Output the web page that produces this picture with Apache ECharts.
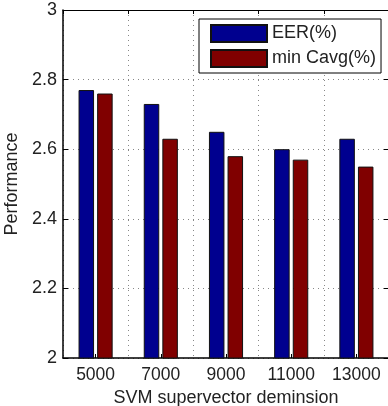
<!DOCTYPE html>
<html><head><meta charset="utf-8">
<script src="https://cdn.jsdelivr.net/npm/echarts@6/dist/echarts.min.js"></script>
<style>html,body{margin:0;padding:0;background:#fff}#c{width:388px;height:406px}</style>
</head><body><div id="c"></div>
<script>
var categories = ['5000', '7000', '9000', '11000', '13000'];
var eer = [2.77, 2.73, 2.65, 2.60, 2.63];
var cavg = [2.76, 2.63, 2.58, 2.57, 2.55];
var seriesNames = ['EER(%)', 'min Cavg(%)'];
var yMin = 2, yMax = 3, yStep = 0.2;

var chart = echarts.init(document.getElementById('c'), null, {renderer: 'canvas'});
var font = 'Liberation Sans, Arial, Helvetica, sans-serif';
var txt = '#222';
var dotted = {show: true, lineStyle: {color: '#888', width: 1, type: [1, 4]}};
chart.setOption({
  animation: false,
  backgroundColor: '#fff',
  textStyle: {fontFamily: font},
  grid: {left: 63, top: 10, width: 326, height: 348, containLabel: false, outerBoundsMode: 'none'},
  legend: {
    data: seriesNames, orient: 'vertical', left: 199, top: 19,
    backgroundColor: '#fff', borderColor: '#000', borderWidth: 1,
    padding: [5, 5, 5, 11], itemWidth: 56, itemHeight: 17, itemGap: 6,
    icon: 'rect',
    textStyle: {fontSize: 18, color: txt, fontFamily: font, padding: [0, 0, 0, 0]}
  },
  xAxis: [{
    type: 'category', data: categories, position: 'bottom',
    axisLine: {onZero: false, lineStyle: {color: '#000', width: 1.5}},
    axisTick: {show: true, inside: true, alignWithLabel: true, length: 4, lineStyle: {color: '#000'}},
    axisLabel: {fontSize: 17.5, color: txt, margin: 8, fontFamily: font, interval: 0, hideOverlap: false},
    splitLine: {show: false},
    name: 'SVM supervector deminsion', nameLocation: 'middle', nameGap: 29,
    nameTextStyle: {fontSize: 18, color: txt, fontFamily: font}
  }, {
    type: 'value', position: 'top', min: -0.5, max: 4.5, interval: 1,
    axisLine: {show: true, onZero: false, lineStyle: {color: '#000', width: 1}},
    axisTick: {show: true, inside: true, length: 4, lineStyle: {color: '#000'}},
    axisLabel: {show: false},
    splitLine: dotted
  }],
  yAxis: [{
    type: 'value', min: yMin, max: yMax, interval: yStep, position: 'left',
    axisLine: {show: true, onZero: false, lineStyle: {color: '#000', width: 1.5}},
    axisTick: {show: true, inside: true, length: 5, lineStyle: {color: '#000'}},
    axisLabel: {fontSize: 18, color: txt, margin: 6, fontFamily: font,
      formatter: function (v) { return String(Math.round(v * 10) / 10); }},
    splitLine: dotted,
    name: 'Performance', nameLocation: 'middle', nameGap: 37,
    nameTextStyle: {fontSize: 18, color: txt, fontFamily: font}
  }, {
    type: 'value', position: 'right', min: yMin, max: yMax, interval: yStep,
    axisLine: {show: true, onZero: false, lineStyle: {color: '#000', width: 1}},
    axisTick: {show: true, inside: true, length: 5, lineStyle: {color: '#000'}},
    axisLabel: {show: false}, splitLine: {show: false}
  }],
  series: [{
    name: seriesNames[0], type: 'bar', data: eer, xAxisIndex: 0, yAxisIndex: 0,
    barWidth: 15.5, barGap: '20%',
    itemStyle: {color: '#00008f', borderColor: '#111', borderWidth: 1}
  }, {
    name: seriesNames[1], type: 'bar', data: cavg, xAxisIndex: 0, yAxisIndex: 0,
    barWidth: 15.5, barGap: '20%',
    itemStyle: {color: '#800000', borderColor: '#111', borderWidth: 1}
  }]
});
</script></body></html>
